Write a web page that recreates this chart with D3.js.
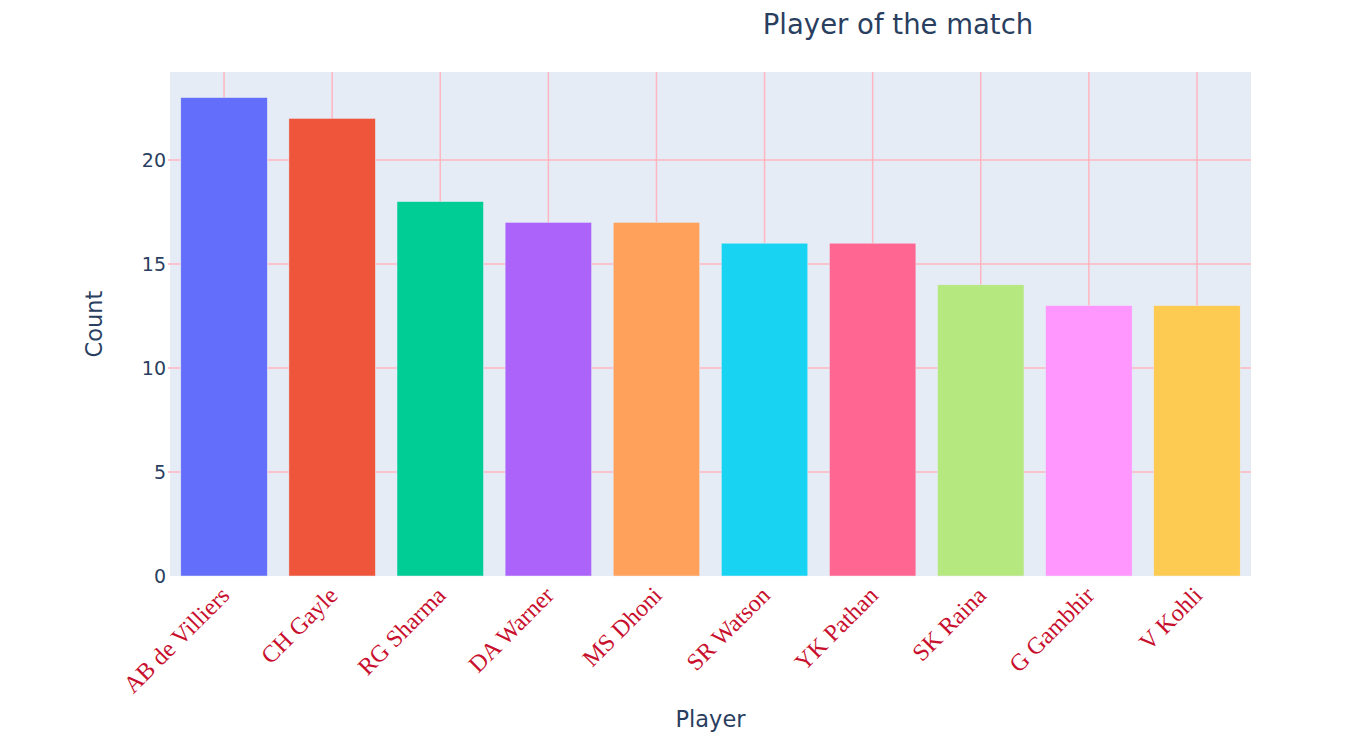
<!DOCTYPE html>
<html>
<head>
<script src="https://d3js.org/d3.v7.min.js"></script>
<style>
  body { margin: 0; background: #fff; }
</style>
</head>
<body>
<svg width="1372" height="735"></svg>
<script>
var players = ['AB de Villiers', 'CH Gayle', 'RG Sharma', 'DA Warner', 'MS Dhoni',
               'SR Watson', 'YK Pathan', 'SK Raina', 'G Gambhir', 'V Kohli'];
var counts = [23, 22, 18, 17, 17, 16, 16, 14, 13, 13];
var colors = ['#636efa', '#EF553B', '#00cc96', '#ab63fa', '#FFA15A',
              '#19d3f3', '#FF6692', '#B6E880', '#FF97FF', '#FECB52'];
var yTicks = [0, 5, 10, 15, 20];

var plotL = 170, plotR = 1251, plotT = 72, plotB = 576;
var svg = d3.select('svg');
var font = '"DejaVu Sans", verdana, arial, sans-serif';

var x = d3.scaleBand().domain(players).range([plotL, plotR])
  .paddingInner(0.2).paddingOuter(0.1);
var y = d3.scaleLinear().domain([0, 24.23]).range([plotB, plotT]);
function cx(d) { return x(d) + x.bandwidth() / 2; }

svg.append('rect')
  .attr('x', plotL).attr('y', plotT)
  .attr('width', plotR - plotL).attr('height', plotB - plotT)
  .attr('fill', '#E5ECF6');

// vertical grid
svg.append('g').selectAll('line').data(players).enter().append('line')
  .attr('x1', cx).attr('x2', cx)
  .attr('y1', plotT).attr('y2', plotB)
  .attr('stroke', 'lightpink').attr('stroke-width', 1.5);

// horizontal grid (with small ticks left of the plot)
svg.append('g').selectAll('line').data(yTicks.slice(1)).enter().append('line')
  .attr('x1', plotL - 2).attr('x2', plotR)
  .attr('y1', function(d) { return y(d); })
  .attr('y2', function(d) { return y(d); })
  .attr('stroke', 'lightpink').attr('stroke-width', 1.5);

// bars
svg.append('g').selectAll('rect').data(players).enter().append('rect')
  .attr('x', function(d) { return x(d); })
  .attr('y', function(d, i) { return y(counts[i]); })
  .attr('width', x.bandwidth())
  .attr('height', function(d, i) { return plotB - y(counts[i]); })
  .attr('fill', function(d, i) { return colors[i]; })
  .attr('stroke', '#E5ECF6').attr('stroke-width', 0.5);

// y tick labels
svg.append('g').selectAll('text').data(yTicks).enter().append('text')
  .attr('x', plotL - 4)
  .attr('y', function(d) { return y(d); })
  .attr('dy', '0.36em')
  .attr('text-anchor', 'end')
  .style('font-family', font).style('font-size', '19px')
  .style('fill', '#2a3f5f')
  .text(function(d) { return d; });

// x tick labels
svg.append('g').selectAll('text').data(players).enter().append('text')
  .attr('transform', function(d) {
    return 'translate(' + (cx(d) - 5) + ',' + (plotB + 9) + ') rotate(-45)';
  })
  .attr('text-anchor', 'end')
  .attr('dy', '0.7em')
  .style('font-family', '"Liberation Serif", "Times New Roman", serif')
  .style('font-size', '24px')
  .style('fill', '#c8102e')
  .text(function(d) { return d; });

// axis titles
svg.append('text')
  .attr('x', (plotL + plotR) / 2).attr('y', 727)
  .attr('text-anchor', 'middle')
  .style('font-family', font).style('font-size', '22.5px').style('fill', '#2a3f5f')
  .text('Player');

svg.append('text')
  .attr('transform', 'translate(102,' + ((plotT + plotB) / 2) + ') rotate(-90)')
  .attr('text-anchor', 'middle')
  .style('font-family', font).style('font-size', '22.5px').style('fill', '#2a3f5f')
  .text('Count');

svg.append('text')
  .attr('x', 898).attr('y', 34)
  .attr('text-anchor', 'middle')
  .style('font-family', font).style('font-size', '27.5px').style('fill', '#2a3f5f')
  .text('Player of the match');
</script>
</body>
</html>
